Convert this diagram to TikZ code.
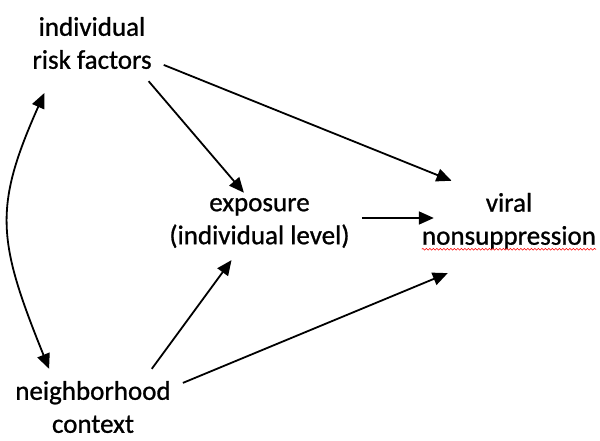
\documentclass[tikz,border=0pt]{standalone}
\usepackage{fontspec}
\setmainfont{Carlito}
\newfontfamily\varfont{Carlito}[FakeBold=0.9]
\usetikzlibrary{arrows.meta,decorations.pathmorphing}

\tikzset{
  var/.style={align=center, inner sep=12pt, font=\varfont\fontsize{27}{33}\selectfont},
  arr/.style={-{Triangle[length=15pt,width=13pt]}, line width=1.8pt},
  both/.style={arr, {Triangle[length=15pt,width=13pt]}-{Triangle[length=15pt,width=13pt]}},
}

\begin{document}
\begin{tikzpicture}[x=1pt,y=1pt]
\useasboundingbox (0,0) rectangle (600,440);

\node[var] (risk) at (92,397) {individual\\risk factors};
\node[var] (expo) at (259.5,217) {exposure\\(individual level)};
\node[var] (viral) at (509,219) {viral\\nonsuppression};
\node[var] (hood) at (93,33) {neighborhood\\context};

\draw[arr] (risk.-17.8) -- (viral.145.9);
\draw[arr, shorten >=-9pt] (risk.-34.2) -- (expo.120.2);
\draw[arr, shorten >=-24pt] ([yshift=5pt]expo.east) -- ([yshift=5pt]expo.east -| viral.west);
\draw[arr] (hood.33.8) -- (expo.233.6);
\draw[arr, shorten >=31pt] (hood.15.9) -- (viral.231.6);

% risk factors <-> neighborhood
\draw[both, shorten <=13pt] (risk.222.7) to[out=246, in=112, looseness=1.23] (hood.139.6);

% spell-check underline
\draw[red, line width=0.6pt, decorate, decoration={snake, amplitude=0.9pt, segment length=3.5pt}]
  ([shift={(12,12)}]viral.south west) -- ([shift={(-12,12)}]viral.south east);
\end{tikzpicture}
\end{document}
